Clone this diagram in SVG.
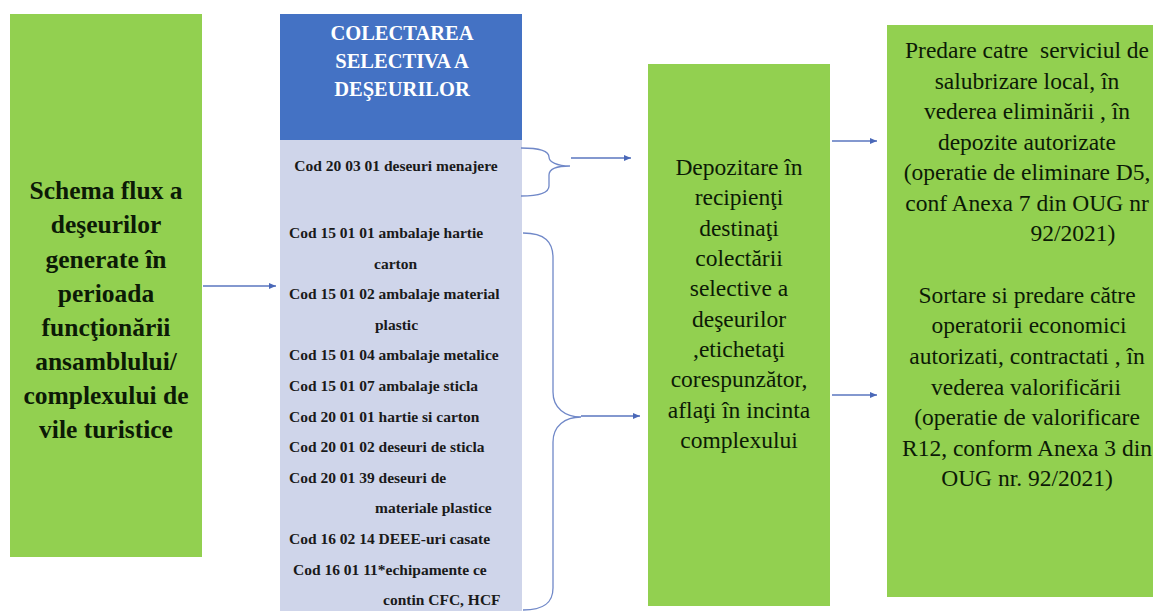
<svg xmlns="http://www.w3.org/2000/svg" width="1153" height="611" viewBox="0 0 1153 611">
<style>
.green{fill:#92D050}
.t{fill:#0c1a06}
.lb{font-size:25.5px;font-weight:bold;text-anchor:middle}
.hd{font-size:20.5px;font-weight:bold;fill:#ffffff;text-anchor:middle}
.li{font-size:15.5px;font-weight:bold;fill:#1a1a1a}
.mid{font-size:23.5px;text-anchor:middle}
.conn{fill:none;stroke:#5a76bf;stroke-width:1.3}
.brace{fill:none;stroke:#7088c8;stroke-width:1.3}
</style>
<defs>
<marker id="ah" markerWidth="8" markerHeight="8" refX="7" refY="4" orient="auto" markerUnits="userSpaceOnUse">
<path d="M0,1 L7,4 L0,7 Z" fill="#4a68b8"/>
</marker>
</defs>
<rect width="1153" height="611" fill="#ffffff"/>
<g font-family="Liberation Serif, DejaVu Serif, serif">
<g id="node-source">
<rect class="green" x="10" y="14" width="192" height="543"/>
<text class="t lb" x="106" y="199">Schema flux a</text>
<text class="t lb" x="106" y="233">deşeurilor</text>
<text class="t lb" x="106" y="268">generate în</text>
<text class="t lb" x="106" y="302">perioada</text>
<text class="t lb" x="106" y="336">funcţionării</text>
<text class="t lb" x="106" y="370">ansamblului/</text>
<text class="t lb" x="106" y="404">complexului de</text>
<text class="t lb" x="106" y="438">vile turistice</text>
</g>

<g id="node-collect-header">
<rect x="280" y="14" width="242" height="126" fill="#4472C4"/>
<text class="hd" x="402" y="40">COLECTAREA</text>
<text class="hd" x="402" y="68">SELECTIVA A</text>
<text class="hd" x="402" y="96">DEŞEURILOR</text>
</g>

<g id="node-codes">
<rect x="280" y="140" width="242" height="471" fill="#CFD5EA"/>
<text class="li" x="396" y="171" text-anchor="middle">Cod 20 03 01 deseuri menajere</text>
<text class="li" x="289" y="238">Cod 15 01 01 ambalaje hartie</text>
<text class="li" x="374" y="269">carton</text>
<text class="li" x="289" y="299">Cod 15 01 02 ambalaje material</text>
<text class="li" x="375" y="330">plastic</text>
<text class="li" x="289" y="360">Cod 15 01 04 ambalaje metalice</text>
<text class="li" x="289" y="391">Cod 15 01 07 ambalaje sticla</text>
<text class="li" x="289" y="422">Cod 20 01 01 hartie si carton</text>
<text class="li" x="289" y="452">Cod 20 01 02 deseuri de sticla</text>
<text class="li" x="289" y="483">Cod 20 01 39 deseuri de</text>
<text class="li" x="375" y="513">materiale plastice</text>
<text class="li" x="289" y="544">Cod 16 02 14 DEEE-uri casate</text>
<text class="li" x="293" y="575">Cod 16 01 11*echipamente ce</text>
<text class="li" x="383" y="605">contin CFC, HCF</text>
</g>

<g id="node-storage">
<rect class="green" x="648" y="64" width="182" height="542"/>
<text class="t mid" x="739" y="175">Depozitare în</text>
<text class="t mid" x="739" y="205">recipienţi</text>
<text class="t mid" x="739" y="236">destinaţi</text>
<text class="t mid" x="739" y="266">colectării</text>
<text class="t mid" x="739" y="296">selective a</text>
<text class="t mid" x="739" y="327">deşeurilor</text>
<text class="t mid" x="739" y="357">,etichetaţi</text>
<text class="t mid" x="739" y="387">corespunzător,</text>
<text class="t mid" x="739" y="418">aflaţi în incinta</text>
<text class="t mid" x="739" y="448">complexului</text>
</g>

<g id="node-destination">
<rect class="green" x="887" y="25" width="266" height="572"/>
<text class="t mid" x="1027" y="58" xml:space="preserve">Predare catre  serviciul de</text>
<text class="t mid" x="1027" y="89">salubrizare local, în</text>
<text class="t mid" x="1027" y="119">vederea eliminării , în</text>
<text class="t mid" x="1027" y="150">depozite autorizate</text>
<text class="t mid" x="1027" y="180">(operatie de eliminare D5,</text>
<text class="t mid" x="1027" y="211">conf Anexa 7 din OUG nr</text>
<text class="t mid" x="1073" y="241">92/2021)</text>
<text class="t mid" x="1027" y="303">Sortare si predare către</text>
<text class="t mid" x="1029" y="333">operatorii economici</text>
<text class="t mid" x="1027" y="364">autorizati, contractati , în</text>
<text class="t mid" x="1026" y="395">vederea valorificării</text>
<text class="t mid" x="1027" y="425">(operatie de valorificare</text>
<text class="t mid" x="1027" y="456">R12, conform Anexa 3 din</text>
<text class="t mid" x="1027" y="486">OUG nr. 92/2021)</text>
</g>
</g>
<g id="connectors">
<line class="conn" x1="203" y1="286" x2="276" y2="286" marker-end="url(#ah)"/>
<path class="brace" d="M521,148 C538,148 549,151 549,157 C549,162 557,166 570,166 C557,166 549,169 549,175 L549,186 C549,193 538,196 521,196"/>
<line class="conn" x1="571" y1="158" x2="631" y2="158" marker-end="url(#ah)"/>
<path class="brace" d="M523,233 C545,233 553,242 553,258 L553,392 C553,408 565,417 581,417 C565,417 553,426 553,442 L553,588 C553,602 545,610 523,610"/>
<line class="conn" x1="581" y1="416" x2="640" y2="416" marker-end="url(#ah)"/>
<line class="conn" x1="832" y1="141" x2="877" y2="141" marker-end="url(#ah)"/>
<line class="conn" x1="832" y1="395" x2="877" y2="395" marker-end="url(#ah)"/>
</g>
</svg>
